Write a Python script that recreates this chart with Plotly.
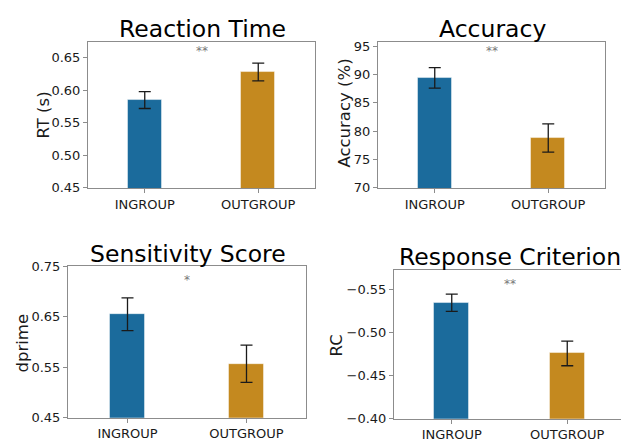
import plotly.graph_objects as go

groups = ["INGROUP", "OUTGROUP"]
titles = ["Reaction Time", "Accuracy", "Sensitivity Score", "Response Criterion"]
ylabels = ["RT (s)", "Accuracy (%)", "dprime", "RC"]
stars = ["**", "**", "*", "**"]

rt_mean = [0.585, 0.628]
rt_sem = [0.013, 0.0135]
acc_mean = [89.4, 78.8]
acc_sem = [1.8, 2.5]
dp_mean = [0.655, 0.557]
dp_sem = [0.0325, 0.037]
rc_mean = [-0.535, -0.476]
rc_sem = [0.010, 0.0143]

means = [rt_mean, acc_mean, dp_mean, rc_mean]
sems = [rt_sem, acc_sem, dp_sem, rc_sem]
yranges = [[0.45, 0.674], [70, 95.7], [0.45, 0.75], [-0.40, -0.573]]
yticks = [[0.45, 0.50, 0.55, 0.60, 0.65], [70, 75, 80, 85, 90, 95],
          [0.45, 0.55, 0.65, 0.75], [-0.40, -0.45, -0.50, -0.55]]
tickfmt = [".2f", "d", ".2f", ".2f"]
star_y = [0.660, 94.2, 0.722, -0.557]

colors = ["#1b6b9c", "#c4891f"]

W, H = 629, 442
OFF = 8  # page offset of the plot inside the browser window
# plot boxes in window pixels (left, right, top, bottom)
boxes = [(88, 315, 36, 187), (378, 605, 36, 187), (68, 306, 268, 425), (394, 625, 272, 426)]
title_pos = [(202, 23), (492, 23), (188, 255), (510, 259)]
ylab_pos = [(43, 112), (345, 110), (22, 348), (336, 350)]


def px(x):
    return (x - OFF) / W


def py(y):
    return 1 - (y - OFF) / H


fig = go.Figure()
annotations = []
FONT = "DejaVu Sans"
for i in range(4):
    n = "" if i == 0 else str(i + 1)
    xa, ya = "x" + n, "y" + n
    l, r, t, b = boxes[i]
    fig.add_trace(go.Bar(
        x=[0, 1], y=means[i], width=0.3, xaxis=xa, yaxis=ya,
        marker=dict(color=colors, line=dict(color="rgba(255,255,255,0.45)", width=1)),
        error_y=dict(type="data", array=sems[i], color="#1a1a1a", thickness=1.3, width=6),
        showlegend=False,
    ))
    axcommon = dict(showline=True, linecolor="#8c8c8c", linewidth=1, mirror=True,
                    showgrid=False, zeroline=False, ticks="outside", ticklen=4,
                    tickcolor="#8c8c8c", tickfont=dict(family=FONT, size=13, color="#1a1a1a"))
    fig.update_layout(**{
        ("xaxis" + n): dict(domain=[px(l), px(r)], anchor=ya, range=[-0.5, 1.5],
                            tickvals=[0, 1], ticktext=groups, **axcommon),
        ("yaxis" + n): dict(domain=[py(b), py(t)], anchor=xa, range=yranges[i],
                            tickvals=yticks[i], tickformat=tickfmt[i], **axcommon),
    })
    annotations.append(dict(x=px(title_pos[i][0]), y=py(title_pos[i][1]), xref="paper", yref="paper",
                            text=titles[i], showarrow=False, xanchor="center", yanchor="middle",
                            font=dict(family=FONT, size=23.5, color="#000000")))
    annotations.append(dict(x=px(ylab_pos[i][0]), y=py(ylab_pos[i][1]), xref="paper", yref="paper",
                            text=ylabels[i], showarrow=False, textangle=-90, xanchor="center", yanchor="middle",
                            font=dict(family=FONT, size=16.5, color="#1a1a1a")))
    annotations.append(dict(x=0.5, y=star_y[i], xref=xa, yref=ya, text=stars[i], showarrow=False,
                            xanchor="center", yanchor="middle",
                            font=dict(family=FONT, size=12, color="#777777")))

fig.update_layout(width=W, height=H, margin=dict(l=0, r=0, t=0, b=0),
                  paper_bgcolor="white", plot_bgcolor="white", annotations=annotations,
                  bargap=0)
fig.write_html("out.html")
